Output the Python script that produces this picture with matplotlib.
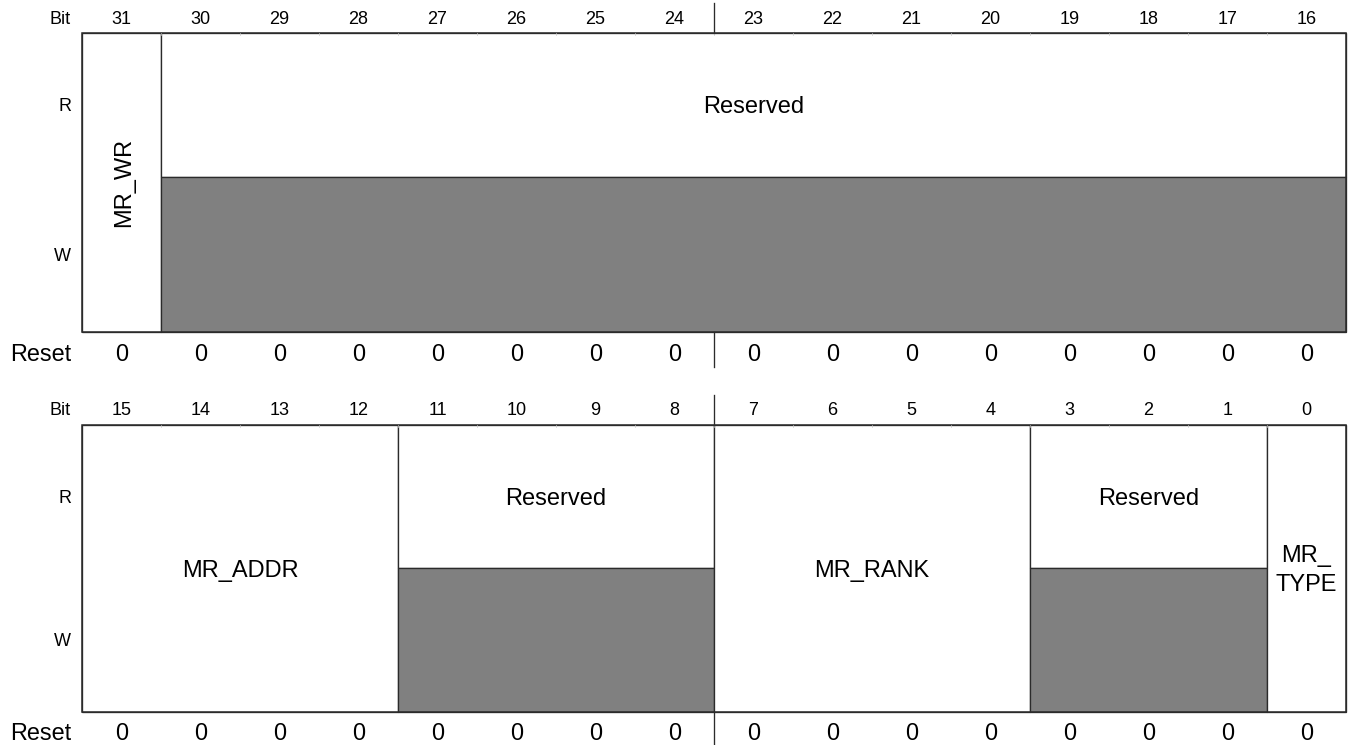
import matplotlib.pyplot as plt
from matplotlib.patches import Rectangle

plt.rcParams['font.family'] = ['Liberation Sans', 'DejaVu Sans']

# register data: (name, msb, lsb, kind)
fieldsHigh = [('MR_WR', 31, 31, 'rw_vertical'),
              ('Reserved', 30, 16, 'reserved')]
fieldsLow = [('MR_ADDR', 15, 12, 'rw'),
             ('Reserved', 11, 8, 'reserved'),
             ('MR_RANK', 7, 4, 'rw'),
             ('Reserved', 3, 1, 'reserved'),
             ('MR_\nTYPE', 0, 0, 'rw')]
bitsHigh = [31, 30, 29, 28, 27, 26, 25, 24, 23, 22, 21, 20, 19, 18, 17, 16]
bitsLow = [15, 14, 13, 12, 11, 10, 9, 8, 7, 6, 5, 4, 3, 2, 1, 0]
resetHigh = [0, 0, 0, 0, 0, 0, 0, 0, 0, 0, 0, 0, 0, 0, 0, 0]
resetLow = [0, 0, 0, 0, 0, 0, 0, 0, 0, 0, 0, 0, 0, 0, 0, 0]

DPI = 100
X0 = 82
COLW = 79
EDGE = '#2b2b2b'
GRAY = '#808080'
LW = 0.95


def cap_offset(fs):
    # distance from vertical centre of capitals to baseline, in pixels
    return 0.358 * fs * DPI / 72.0


def draw_register(ax, fields, bits, resets, top, split, bottom, bitY, resetY, nextTop):
    hiBit = bits[0]
    width = 16 * COLW
    midY = (top + bottom) / 2.0
    rY = (top + split) / 2.0
    wY = (split + bottom) / 2.0

    # row labels
    small = 13
    ax.text(71, bitY + cap_offset(small), 'Bit', ha='right', va='baseline', fontsize=small)
    ax.text(71, rY + cap_offset(small), 'R', ha='right', va='baseline', fontsize=small)
    ax.text(71, wY + cap_offset(small), 'W', ha='right', va='baseline', fontsize=small)
    ax.text(71, resetY + cap_offset(16.8), 'Reset', ha='right', va='baseline', fontsize=16.8)

    for i, (b, r) in enumerate(zip(bits, resets)):
        cx = X0 + (hiBit - b + 0.5) * COLW
        ax.text(cx, bitY + cap_offset(small), str(b), ha='center', va='baseline', fontsize=small)
        ax.text(cx, resetY + cap_offset(16.8), str(r), ha='center', va='baseline', fontsize=16.8)

    for name, msb, lsb, kind in fields:
        xl = X0 + (hiBit - msb) * COLW
        w = (msb - lsb + 1) * COLW
        cx = xl + w / 2.0
        fs = 17
        if kind == 'reserved':
            ax.add_patch(Rectangle((xl, top), w, split - top, facecolor='white', edgecolor=EDGE, lw=LW))
            ax.add_patch(Rectangle((xl, split), w, bottom - split, facecolor=GRAY, edgecolor=EDGE, lw=LW))
            ax.text(cx, rY + cap_offset(fs), name, ha='center', va='baseline', fontsize=fs)
        else:
            ax.add_patch(Rectangle((xl, top), w, bottom - top, facecolor='white', edgecolor=EDGE, lw=LW))
            if kind == 'rw_vertical':
                ax.text(xl + w / 2.0 + cap_offset(fs), midY, name, ha='center', va='baseline',
                        rotation=90, rotation_mode='anchor', fontsize=fs)
            else:
                lines = name.split('\n')
                step = 29
                y0 = midY - step * (len(lines) - 1) / 2.0
                for k, line in enumerate(lines):
                    ax.text(cx, y0 + k * step + cap_offset(fs), line, ha='center', va='baseline', fontsize=fs)

    # outer box
    ax.add_patch(Rectangle((X0, top), width, bottom - top, fill=False, edgecolor=EDGE, lw=1.1))
    # faint ticks on the top border
    for k in range(1, 16):
        x = X0 + k * COLW
        ax.plot([x, x], [top, top + 2], color='#c8c8c8', lw=0.5)

    # byte separator in the label rows
    xm = X0 + 8 * COLW
    ax.plot([xm, xm], [top - 30, top], color=EDGE, lw=LW)
    ax.plot([xm, xm], [bottom, nextTop], color=EDGE, lw=LW)


def main() -> None:
    fig = plt.figure(figsize=(13.48, 7.45), dpi=DPI)
    ax = fig.add_axes([0, 0, 1, 1])
    ax.set_xlim(0, 1348)
    ax.set_ylim(745, 0)
    ax.axis('off')

    draw_register(ax, fieldsHigh, bitsHigh, resetHigh, 32.5, 177, 332, 17.5, 352.5, 367)
    draw_register(ax, fieldsLow, bitsLow, resetLow, 424.5, 568, 712, 409, 732, 745)

    fig.savefig('out.png', dpi=DPI)


if __name__ == "__main__":
    main()
